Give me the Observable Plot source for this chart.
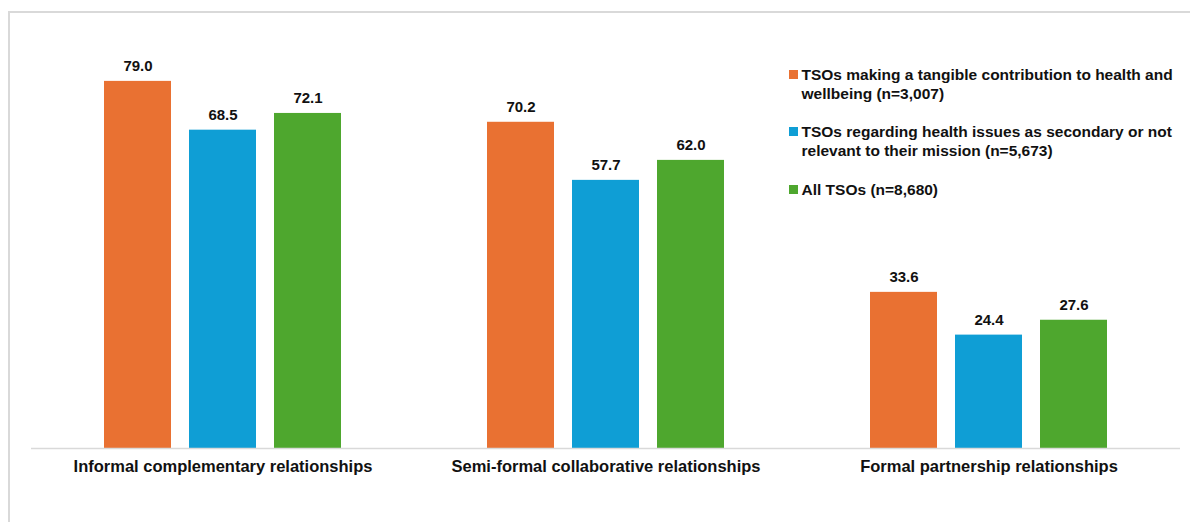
<!DOCTYPE html>
<html>
<head>
<meta charset="utf-8">
<script src="https://cdn.jsdelivr.net/npm/d3@7"></script>
<script src="https://cdn.jsdelivr.net/npm/@observablehq/plot@0.6"></script>
<style>
  html, body { margin: 0; padding: 0; background: #fff; }
  #wrap { position: relative; width: 1190px; height: 522px; overflow: hidden; font-family: "Liberation Sans", Arial, sans-serif; }
  #frame { position: absolute; left: 8px; top: 11px; width: 1300px; height: 600px; border-left: 2px solid #d9d9d9; border-top: 2px solid #d9d9d9; box-sizing: border-box; }
  #chart { position: absolute; left: 0; top: 0; }
  .leg { position: absolute; left: 789px; font-size: 15.5px; font-weight: bold; line-height: 19px; color: #111; white-space: pre; }
  .leg .sw { position: absolute; left: 0; top: 5px; width: 9px; height: 9px; }
  .leg .tx { margin-left: 12.5px; }
</style>
</head>
<body>
<div id="wrap">
  <div id="frame"></div>
  <div id="chart"></div>
</div>
<script>
const categories = ["Informal complementary relationships", "Semi-formal collaborative relationships", "Formal partnership relationships"];
const seriesNames = [
  "TSOs making a tangible contribution to health and\nwellbeing (n=3,007)",
  "TSOs regarding health issues as secondary or not\nrelevant to their mission (n=5,673)",
  "All TSOs (n=8,680)"
];
const seriesColors = ["#E97132", "#0F9ED5", "#4EA72E"];
const tangible = [79.0, 70.2, 33.6];
const secondary = [68.5, 57.7, 24.4];
const allTSOs = [72.1, 62.0, 27.6];

const seriesValues = [tangible, secondary, allTSOs];
const data = [];
categories.forEach((c, i) => {
  seriesValues.forEach((vals, s) => {
    data.push({category: c, series: seriesNames[s], value: vals[i]});
  });
});

const chart = Plot.plot({
  width: 1190,
  height: 522,
  marginLeft: 30,
  marginRight: 9,
  marginTop: 53,
  marginBottom: 74,
  style: {background: "transparent", fontFamily: "'Liberation Sans', Arial, sans-serif"},
  fx: {domain: categories, padding: 0, label: null},
  x: {domain: seriesNames, paddingInner: 0.214, paddingOuter: 0.858, axis: null},
  y: {domain: [0, 85], axis: null},
  color: {domain: seriesNames, range: seriesColors},
  marks: [
    Plot.axisFx({anchor: "bottom", tickSize: 0, tickPadding: 12, label: null, fontSize: 16.5, fontWeight: "bold", fill: "#111"}),
    Plot.barY(data, {fx: "category", x: "series", y: "value", fill: "series"}),
    Plot.ruleY([0], {stroke: "#d9d9d9", strokeWidth: 1.5}),
    Plot.text(data, {fx: "category", x: "series", y: "value", text: d => d.value.toFixed(1), lineAnchor: "bottom", dy: -10, fontSize: 15, fontWeight: "bold", fill: "#111"})
  ]
});
document.getElementById("chart").appendChild(chart);

const wrap = document.getElementById("wrap");
const legTops = [65, 121.5, 180];
seriesNames.forEach((name, i) => {
  const d = document.createElement("div");
  d.className = "leg";
  d.style.top = legTops[i] + "px";
  const sw = document.createElement("span");
  sw.className = "sw";
  sw.style.background = seriesColors[i];
  const tx = document.createElement("div");
  tx.className = "tx";
  tx.textContent = name;
  d.appendChild(sw);
  d.appendChild(tx);
  wrap.appendChild(d);
});
</script>
</body>
</html>
